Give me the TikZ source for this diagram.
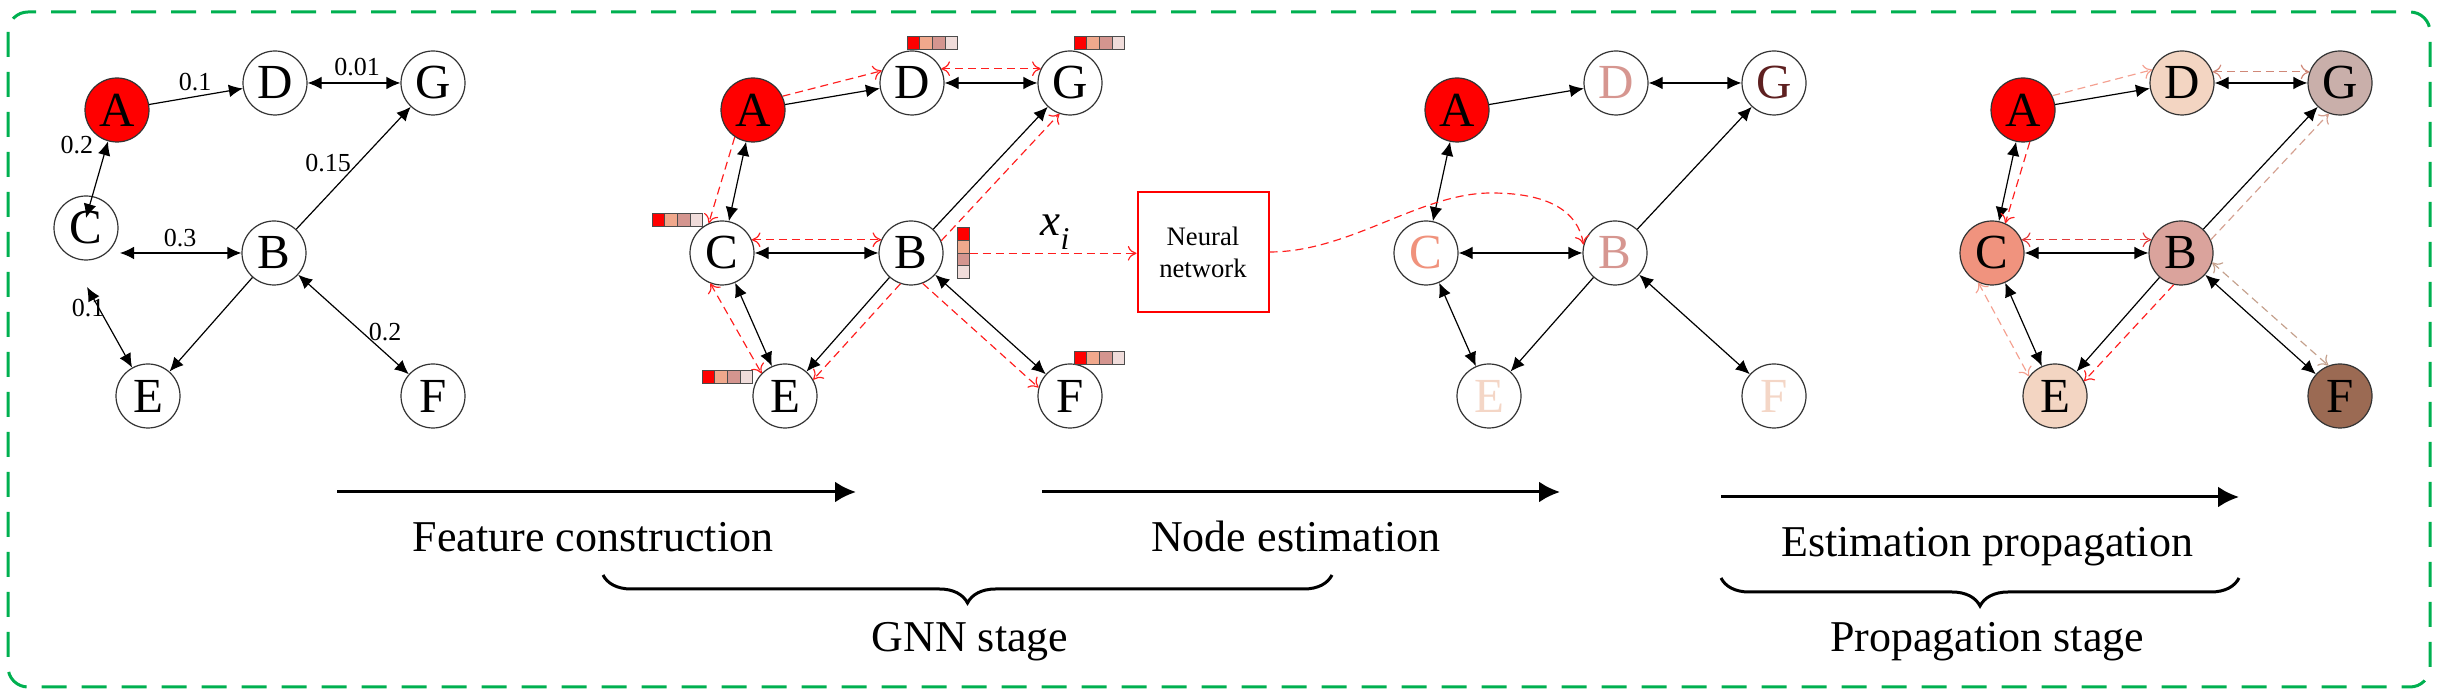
\documentclass[tikz,border=0pt]{standalone}
\usepackage{fontspec}
\setmainfont{Liberation Serif}
\usetikzlibrary{arrows.meta,decorations.pathreplacing,calc}
\definecolor{gborder}{RGB}{0,176,80}
\definecolor{fsalmon}{RGB}{240,168,140}
\definecolor{fdusty}{RGB}{212,149,143}
\definecolor{flight}{RGB}{240,220,218}
\definecolor{tdusty}{RGB}{214,150,144}
\definecolor{tmaroon}{RGB}{94,32,32}
\definecolor{tsalmon}{RGB}{240,146,124}
\definecolor{tpeach}{RGB}{244,214,198}
\definecolor{fillpeach}{RGB}{243,213,194}
\definecolor{fillmauve}{RGB}{201,175,170}
\definecolor{fillsalmon}{RGB}{240,147,126}
\definecolor{fillrose}{RGB}{218,163,156}
\definecolor{fillbrown}{RGB}{155,106,83}
\definecolor{mred}{RGB}{255,30,30}
\definecolor{mlsalmon}{RGB}{244,160,144}
\definecolor{mdg}{RGB}{208,136,120}
\definecolor{mcb}{RGB}{226,60,60}
\definecolor{mbg}{RGB}{212,160,144}
\definecolor{mbf}{RGB}{196,160,140}
\tikzset{
  vtx/.style={circle, draw=black!80, line width=0.36pt, minimum size=19.2pt,
    inner sep=0pt, fill=white, font=\fontsize{14.7}{15}\selectfont},
  blk/.style={line width=0.36pt, black},
  btip/.tip={Latex[length=4.2pt,width=3.8pt]},
  rtip/.tip={Computer Modern Rightarrow[length=2.6pt,width=4.4pt]},
  msg/.style={line width=0.35pt, dash pattern=on 2.4pt off 1.5pt},
  lbl/.style={inner sep=0pt, font=\fontsize{7.8}{9}\selectfont},
  cell/.style={draw=black!70, line width=0.3pt, minimum size=3.8pt, inner sep=0pt, outer sep=0pt},
  txt/.style={inner sep=0pt, font=\fontsize{13.2}{15}\selectfont},
  bigarrow/.style={line width=0.9pt, -{Latex[length=6.3pt,width=6.3pt]}},
  brc/.style={line width=0.9pt, decorate, decoration={brace,mirror,amplitude=8.4pt}},
}
\newcommand\featrow[2]{%
  \node[cell,fill=red,anchor=north west] (#1a) at (#2) {};
  \node[cell,fill=fsalmon,anchor=west] (#1b) at (#1a.east) {};
  \node[cell,fill=fdusty,anchor=west] (#1c) at (#1b.east) {};
  \node[cell,fill=flight,anchor=west] (#1d) at (#1c.east) {};}
\newcommand\featcol[2]{%
  \node[cell,fill=red,anchor=north west] (#1a) at (#2) {};
  \node[cell,fill=fsalmon,anchor=north] (#1b) at (#1a.south) {};
  \node[cell,fill=fdusty,anchor=north] (#1c) at (#1b.south) {};
  \node[cell,fill=flight,anchor=north] (#1d) at (#1c.south) {};}
\newcommand\blackedges[1]{%
  \draw[blk,-btip] (A#1) -- (D#1);
  \draw[blk,btip-btip] (D#1) -- (G#1);
  \draw[blk,btip-btip] (A#1) -- (C#1);
  \draw[blk,btip-btip] (C#1) -- (B#1);
  \draw[blk,btip-btip] (C#1) -- (E#1);
  \draw[blk,-btip] (B#1) -- (E#1);
  \draw[blk,-btip] (B#1) -- (G#1);
  \draw[blk,btip-btip] (B#1) -- (F#1);}
\begin{document}
\begin{tikzpicture}[x=0.3pt,y=-0.3pt]
\useasboundingbox (0,0) rectangle (2450,694);
\draw[gborder, line width=0.9pt, dash pattern=on 7.5pt off 4.5pt, rounded corners=6pt] (8,12) rectangle (2430,687);

% ---------- Graph 1 ----------
\node[vtx,fill=red] (A1) at (117,110) {A};
\node[vtx] (D1) at (275,83) {D};
\node[vtx] (G1) at (433,83) {G};
\node[vtx] (C1) at (86,228) {C};
\node[vtx] (B1) at (274,253) {B};
\node[vtx] (E1) at (148,396) {E};
\node[vtx] (F1) at (433,396) {F};
\coordinate (c1t) at (86,218);
\coordinate (c1r) at (120,253);
\coordinate (c1b) at (87,287);
\draw[blk,-btip] (A1) -- (D1);
\draw[blk,btip-btip] (D1) -- (G1);
\draw[blk,btip-btip] (A1) -- (c1t);
\draw[blk,btip-btip] (c1r) -- (B1);
\draw[blk,btip-btip] (c1b) -- (E1);
\draw[blk,-btip] (B1) -- (E1);
\draw[blk,-btip] (B1) -- (G1);
\draw[blk,btip-btip] (B1) -- (F1);
\node[lbl] (l1) at (195,82) {0.1};
\node[lbl] (l2) at (357,67) {0.01};
\node[lbl] (l3) at (77,145) {0.2};
\node[lbl] (l4) at (328,163) {0.15};
\node[lbl] (l5) at (180,238) {0.3};
\node[lbl] (l6) at (88,308) {0.1};
\node[lbl] (l7) at (385,332) {0.2};

% ---------- Graph 2 ----------
\begin{scope}[shift={(637,0)}]
\node[vtx,fill=red] (A2) at (116,110) {A};
\node[vtx] (D2) at (275,83) {D};
\node[vtx] (G2) at (433,83) {G};
\node[vtx] (C2) at (85,253) {C};
\node[vtx] (B2) at (274,253) {B};
\node[vtx] (E2) at (148,396) {E};
\node[vtx] (F2) at (433,396) {F};
\end{scope}
\blackedges{2}
\draw[msg,mred,-rtip] (A2.25) -- (D2.158);
\draw[msg,mred,rtip-rtip] (D2.26) -- (G2.154);
\draw[msg,mred,-rtip] (A2.236) -- (C2.114);
\draw[msg,mred,rtip-rtip] (C2.24) -- (B2.156);
\draw[msg,mred,rtip-rtip] (C2.249) -- (E2.136);
\draw[msg,mred,-rtip] (B2.251) -- (E2.30);
\draw[msg,mred,-rtip] (B2.22) -- (G2.251);
\draw[msg,mred,-rtip] (B2.291) -- (F2.165);
\featrow{dbar}{$(D2)+(-5,-46)$}
\featrow{gbar}{$(G2)+(4,-46)$}
\featrow{cbar}{$(C2)+(-70,-39)$}
\featrow{ebar}{$(E2)+(-83,-25)$}
\featrow{fbar}{$(F2)+(4,-44)$}
\featcol{bbar}{$(B2)+(46,-25)$}
\node[inner sep=0pt, font=\fontsize{13.5}{15}\selectfont\itshape] (xi) at (1055,232) {x\raisebox{-0.32em}{\fontsize{9.5}{10}\selectfont i}};
\node[draw=red, line width=0.6pt, minimum width=39.3pt, minimum height=36pt, inner sep=0pt, align=center, font=\fontsize{8}{9.6}\selectfont] (NN) at (1203,252) {Neural\\network};
\draw[msg,mred,-rtip] (bbarb.south east) -- (NN.west |- bbarb.south east);

% ---------- Graph 3 ----------
\begin{scope}[shift={(1341,0)}]
\node[vtx,fill=red] (A3) at (116,110) {A};
\node[vtx,text=tdusty] (D3) at (275,83) {D};
\node[vtx,text=tmaroon] (G3) at (433,83) {G};
\node[vtx,text=tsalmon] (C3) at (85,253) {C};
\node[vtx,text=tdusty] (B3) at (274,253) {B};
\node[vtx,text=tpeach] (E3) at (148,396) {E};
\node[vtx,text=tpeach] (F3) at (433,396) {F};
\end{scope}
\blackedges{3}
\draw[msg,mred,-rtip] (NN.east) .. controls (1350,252) and (1420,193) .. (1491,193)
  .. controls (1550,193) and (1578,212) .. (B3.165);

% ---------- Graph 4 ----------
\begin{scope}[shift={(1907,0)}]
\node[vtx,fill=red] (A4) at (116,110) {A};
\node[vtx,fill=fillpeach] (D4) at (275,83) {D};
\node[vtx,fill=fillmauve] (G4) at (433,83) {G};
\node[vtx,fill=fillsalmon] (C4) at (85,253) {C};
\node[vtx,fill=fillrose] (B4) at (274,253) {B};
\node[vtx,fill=fillpeach] (E4) at (148,396) {E};
\node[vtx,fill=fillbrown] (F4) at (433,396) {F};
\end{scope}
\blackedges{4}
\draw[msg,mlsalmon,-rtip] (A4.26) -- (D4.156);
\draw[msg,mdg,rtip-rtip] (D4.20) -- (G4.160);
\draw[msg,mred,-rtip] (A4.282) -- (C4.66);
\draw[msg,mcb,rtip-rtip] (C4.24) -- (B4.156);
\draw[msg,mlsalmon,rtip-rtip] (C4.245) -- (E4.143);
\draw[msg,mred,-rtip] (B4.257) -- (E4.27);
\draw[msg,mbg,-rtip] (B4.24) -- (G4.250);
\draw[msg,mbf,rtip-rtip] (B4.343) -- (F4.111);

% ---------- Bottom ----------
\coordinate (a1s) at (337,492); \coordinate (a1e) at (856,492);
\coordinate (a2s) at (1042,492); \coordinate (a2e) at (1560,492);
\coordinate (a3s) at (1721,497); \coordinate (a3e) at (2239,497);
\draw[bigarrow] (a1s) -- (a1e);
\draw[bigarrow] (a2s) -- (a2e);
\draw[bigarrow] (a3s) -- (a3e);
\node[txt,anchor=base] (t1) at (593,552) {Feature construction};
\node[txt,anchor=base] (t2) at (1296,552) {Node estimation};
\node[txt,anchor=base] (t3) at (1987,557) {Estimation propagation};
\coordinate (b1s) at (603,575); \coordinate (b1e) at (1332,575);
\coordinate (b2s) at (1721,578); \coordinate (b2e) at (2239,578);
\draw[brc] (b1s) -- (b1e);
\draw[brc] (b2s) -- (b2e);
\node[txt,anchor=base] (t4) at (970,652) {GNN stage};
\node[txt,anchor=base] (t5) at (1987,652) {Propagation stage};
\end{tikzpicture}
\end{document}
